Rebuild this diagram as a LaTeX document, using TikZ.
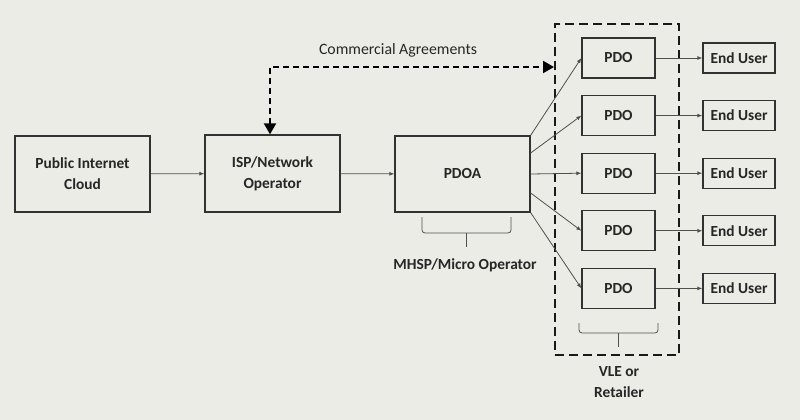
\documentclass[tikz,border=0pt]{standalone}
\usepackage{fontspec}
\setmainfont{Carlito}
\usetikzlibrary{arrows.meta}
\definecolor{bgcol}{RGB}{236,236,230}
\definecolor{boxcol}{RGB}{50,50,50}
\definecolor{linecol}{RGB}{80,80,80}
\tikzset{
  blk/.style={draw=boxcol, line width=1.3pt, text=black!85, font=\bfseries\fontsize{15.4}{21}\selectfont, align=center, inner sep=0pt},
  flow/.style={draw=linecol, line width=0.8pt, -{Latex[length=5pt,width=4pt]}},
  agree/.style={draw=black, line width=2pt, dash pattern=on 6pt off 4pt, {Triangle[length=11pt,width=12pt]}-{Triangle[length=11pt,width=12pt]}},
  frame/.style={draw=black!90, line width=2pt, dash pattern=on 9pt off 5pt, inner sep=0pt},
  brc/.style={draw=linecol, line width=0.8pt, rounded corners=3pt},
  lbl/.style={text=black!85, font=\bfseries\fontsize{15.4}{21}\selectfont, align=center}
}

\begin{document}
\begin{tikzpicture}[x=1pt, y=-1pt]
            \fill[bgcol] (0,0) rectangle (800,420);
            \useasboundingbox (0,0) rectangle (800,420);
            % main chain
            \node [blk, minimum width=135pt, minimum height=76pt] (cloud) at (82.5,174) {Public Internet\\Cloud};
            \node [blk, minimum width=135pt, minimum height=77pt] (isp) at (272.5,173.5) {ISP/Network\\Operator};
            \node [blk, minimum width=135pt, minimum height=76pt] (pdoa) at (462.5,174) {PDOA};
            \node [frame, minimum width=124pt, minimum height=331pt] (vle) at (617,189.5) {};
            \foreach \i/\y in {1/58,2/115.6,3/173.2,4/230.8,5/288.4}{
                \node [blk, minimum width=73pt, minimum height=40pt] (pdo\i) at (618.5,\y) {PDO};
                \node [blk, minimum width=72pt, minimum height=30pt] (user\i) at (739,\y) {End User};
                \draw [flow] (pdo\i) -- (user\i);
            }
            \draw [flow] (cloud) -- (isp);
            \draw [flow] (isp) -- (pdoa);
            \draw [flow] (pdoa.north east) -- (pdo1.west);
            \draw [flow] ([yshift=21pt]pdoa.east) -- (pdo2.west);
            \draw [flow] (pdoa.east) -- (pdo3.west);
            \draw [flow] ([yshift=-19pt]pdoa.east) -- (pdo4.west);
            \draw [flow] (pdoa.south east) -- (pdo5.west);
            % agreements
            \coordinate (agr) at (270,67);
            \draw [agree] ([xshift=-2.5pt]isp.north) -- (agr) -- (agr -| vle.west);
            \node [text=black!85, font=\fontsize{15.8}{18}\selectfont] (agrtxt) at (398,50) {Commercial Agreements};
            % braces
            \draw [brc] (422,217) |- (466.5,233) -| (511,217);
            \draw [brc] (466.5,233) -- (466.5,247);
            \node [lbl] (mhsp) at (465,265) {MHSP/Micro Operator};
            \draw [brc] (579,323) |- (618.5,333) -| (658,323);
            \draw [brc] (618.5,333) -- (618.5,347);
            \node [lbl] (vletxt) at (619,382) {VLE or\\Retailer};
        \end{tikzpicture}
\end{document}
